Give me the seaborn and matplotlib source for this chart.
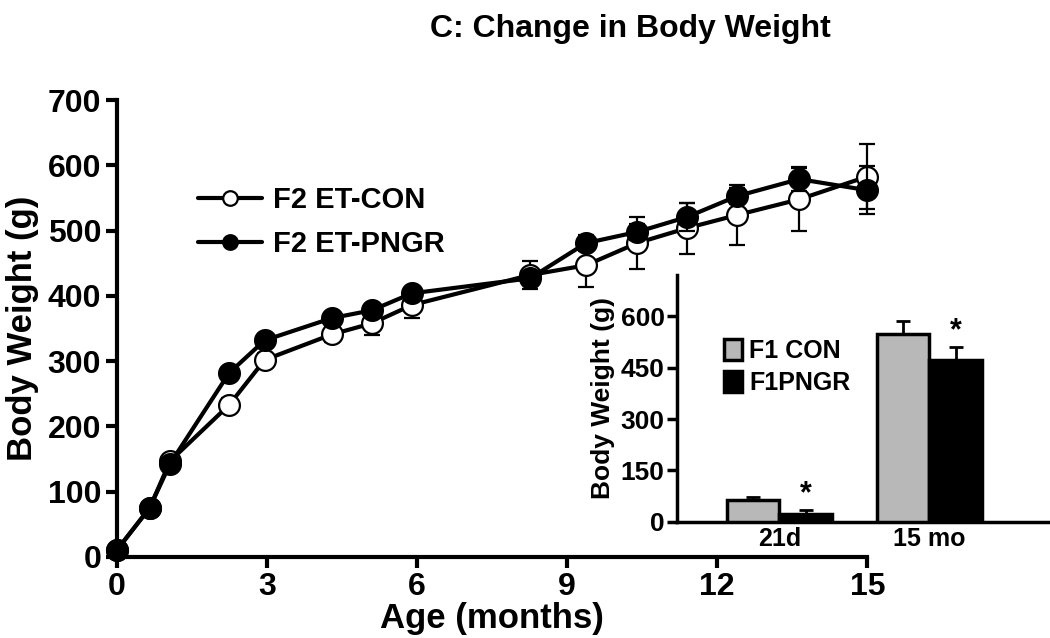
import numpy as np
import pandas as pd
import seaborn as sns
import matplotlib.pyplot as plt

# main panel: body weight over age
age = [0, 0.66, 1.07, 2.25, 2.96, 4.3, 5.1, 5.9, 8.26, 9.38, 10.4, 11.4, 12.4, 13.64, 15]
con_wt = [10, 75, 147, 233, 302, 341, 358, 386, 432, 447, 481, 504, 524, 548, 583]
con_err = [3, 5, 8, 10, 10, 12, 18, 20, 22, 34, 40, 39, 46, 48, 50]
pngr_wt = [10, 75, 143, 282, 332, 366, 378, 404, 427, 481, 498, 521, 553, 579, 562]
pngr_err = [3, 5, 6, 8, 8, 8, 10, 10, 8, 12, 13, 22, 12, 18, 37]

# inset: F1 body weight
inset_groups = ['21d', '15 mo']
f1_con = [64, 548]
f1_con_err = [10, 37]
f1_pngr = [22, 473]
f1_pngr_err = [12, 36]

sns.set_style('ticks', {'axes.edgecolor': 'black', 'text.color': 'black',
                        'axes.labelcolor': 'black', 'xtick.color': 'black',
                        'ytick.color': 'black'})
plt.rcParams['font.family'] = ['Liberation Sans', 'DejaVu Sans']
plt.rcParams['font.weight'] = 'bold'

fig = plt.figure(figsize=(10.5, 6.38), dpi=100)
ax = fig.add_axes([0.111, 0.127, 0.715, 0.716])

# error bars first, then the lines with markers on top
ax.errorbar(age, con_wt, yerr=con_err, fmt='none', ecolor='black',
            elinewidth=1.6, capsize=6, capthick=1.6, zorder=2, clip_on=False)
ax.errorbar(age, pngr_wt, yerr=pngr_err, fmt='none', ecolor='black',
            elinewidth=1.6, capsize=6, capthick=1.6, zorder=4, clip_on=False)
sns.lineplot(x=age, y=con_wt, ax=ax, color='black', lw=3, marker='o',
             markersize=15, markerfacecolor='white', markeredgecolor='black',
             markeredgewidth=1.6, label='F2 ET-CON', zorder=3, clip_on=False)
sns.lineplot(x=age, y=pngr_wt, ax=ax, color='black', lw=3, marker='o',
             markersize=15, markerfacecolor='black', markeredgecolor='black',
             markeredgewidth=1.6, label='F2 ET-PNGR', zorder=5, clip_on=False)

ax.set_xlim(0, 15)
ax.set_ylim(0, 700)
ax.set_xticks([0, 3, 6, 9, 12, 15])
ax.set_yticks(range(0, 701, 100))
ax.tick_params(axis='both', labelsize=23, width=3, length=8, pad=3)
for lab in ax.get_xticklabels() + ax.get_yticklabels():
    lab.set_fontweight('bold')
for s in ['left', 'bottom']:
    ax.spines[s].set_linewidth(3)
sns.despine(ax=ax)
ax.set_xlabel('Age (months)', fontsize=25, fontweight='bold', labelpad=0)
ax.set_ylabel('Body Weight (g)', fontsize=25, fontweight='bold', labelpad=6)

leg = ax.legend(loc='upper left', bbox_to_anchor=(0.073, 0.87), frameon=False,
                fontsize=21, handlelength=2.2, handletextpad=0.4,
                markerscale=0.7, labelspacing=0.55)
for t in leg.get_texts():
    t.set_fontweight('bold')

fig.text(0.6, 0.955, 'C: Change in Body Weight', ha='center', va='center',
         fontsize=23, fontweight='bold')

# inset bar chart
ins = fig.add_axes([0.645, 0.182, 0.353, 0.387])
df = pd.DataFrame({
    'group': inset_groups * 2,
    'weight': f1_con + f1_pngr,
    'err': f1_con_err + f1_pngr_err,
    'gen': ['F1 CON'] * 2 + ['F1PNGR'] * 2,
})
sns.barplot(data=df, x='group', y='weight', hue='gen', ax=ins,
            palette=['#b8b8b8', 'black'], edgecolor='black', linewidth=2.5,
            width=0.7, errorbar=None, saturation=1, zorder=3)

# upward-only error bars, placed on the drawn bars
bars = ins.patches[:4]
for bar, (_, row) in zip(bars, df.iterrows()):
    cx = bar.get_x() + bar.get_width() / 2
    ins.errorbar(cx, row['weight'], yerr=[[0], [row['err']]], fmt='none',
                 ecolor='black', elinewidth=2, capsize=5, capthick=2, zorder=2)
    if row['gen'] == 'F1PNGR':
        ins.text(cx, row['weight'] + row['err'] + 4, '*', ha='center',
                 va='bottom', fontsize=22, fontweight='bold')

ins.set_xlim(-0.68, 1.79)
ins.set_ylim(0, 720)
ins.set_yticks([0, 150, 300, 450, 600])
ins.tick_params(axis='y', labelsize=19, width=2.5, length=7, pad=2)
ins.tick_params(axis='x', labelsize=18, length=0, pad=4)
for lab in ins.get_xticklabels() + ins.get_yticklabels():
    lab.set_fontweight('bold')
for s in ['left', 'bottom']:
    ins.spines[s].set_linewidth(2.5)
sns.despine(ax=ins)
ins.set_xlabel('')
ins.set_ylabel('Body Weight (g)', fontsize=19, fontweight='bold', labelpad=4)
ins.set_facecolor('white')

ileg = ins.legend(loc='upper left', bbox_to_anchor=(0.1, 0.78), frameon=False,
                  fontsize=18, handlelength=0.7, handleheight=0.9,
                  handletextpad=0.3, labelspacing=0.3, borderaxespad=0)
for t in ileg.get_texts():
    t.set_fontweight('bold')

fig.savefig('out.png', dpi=100)
